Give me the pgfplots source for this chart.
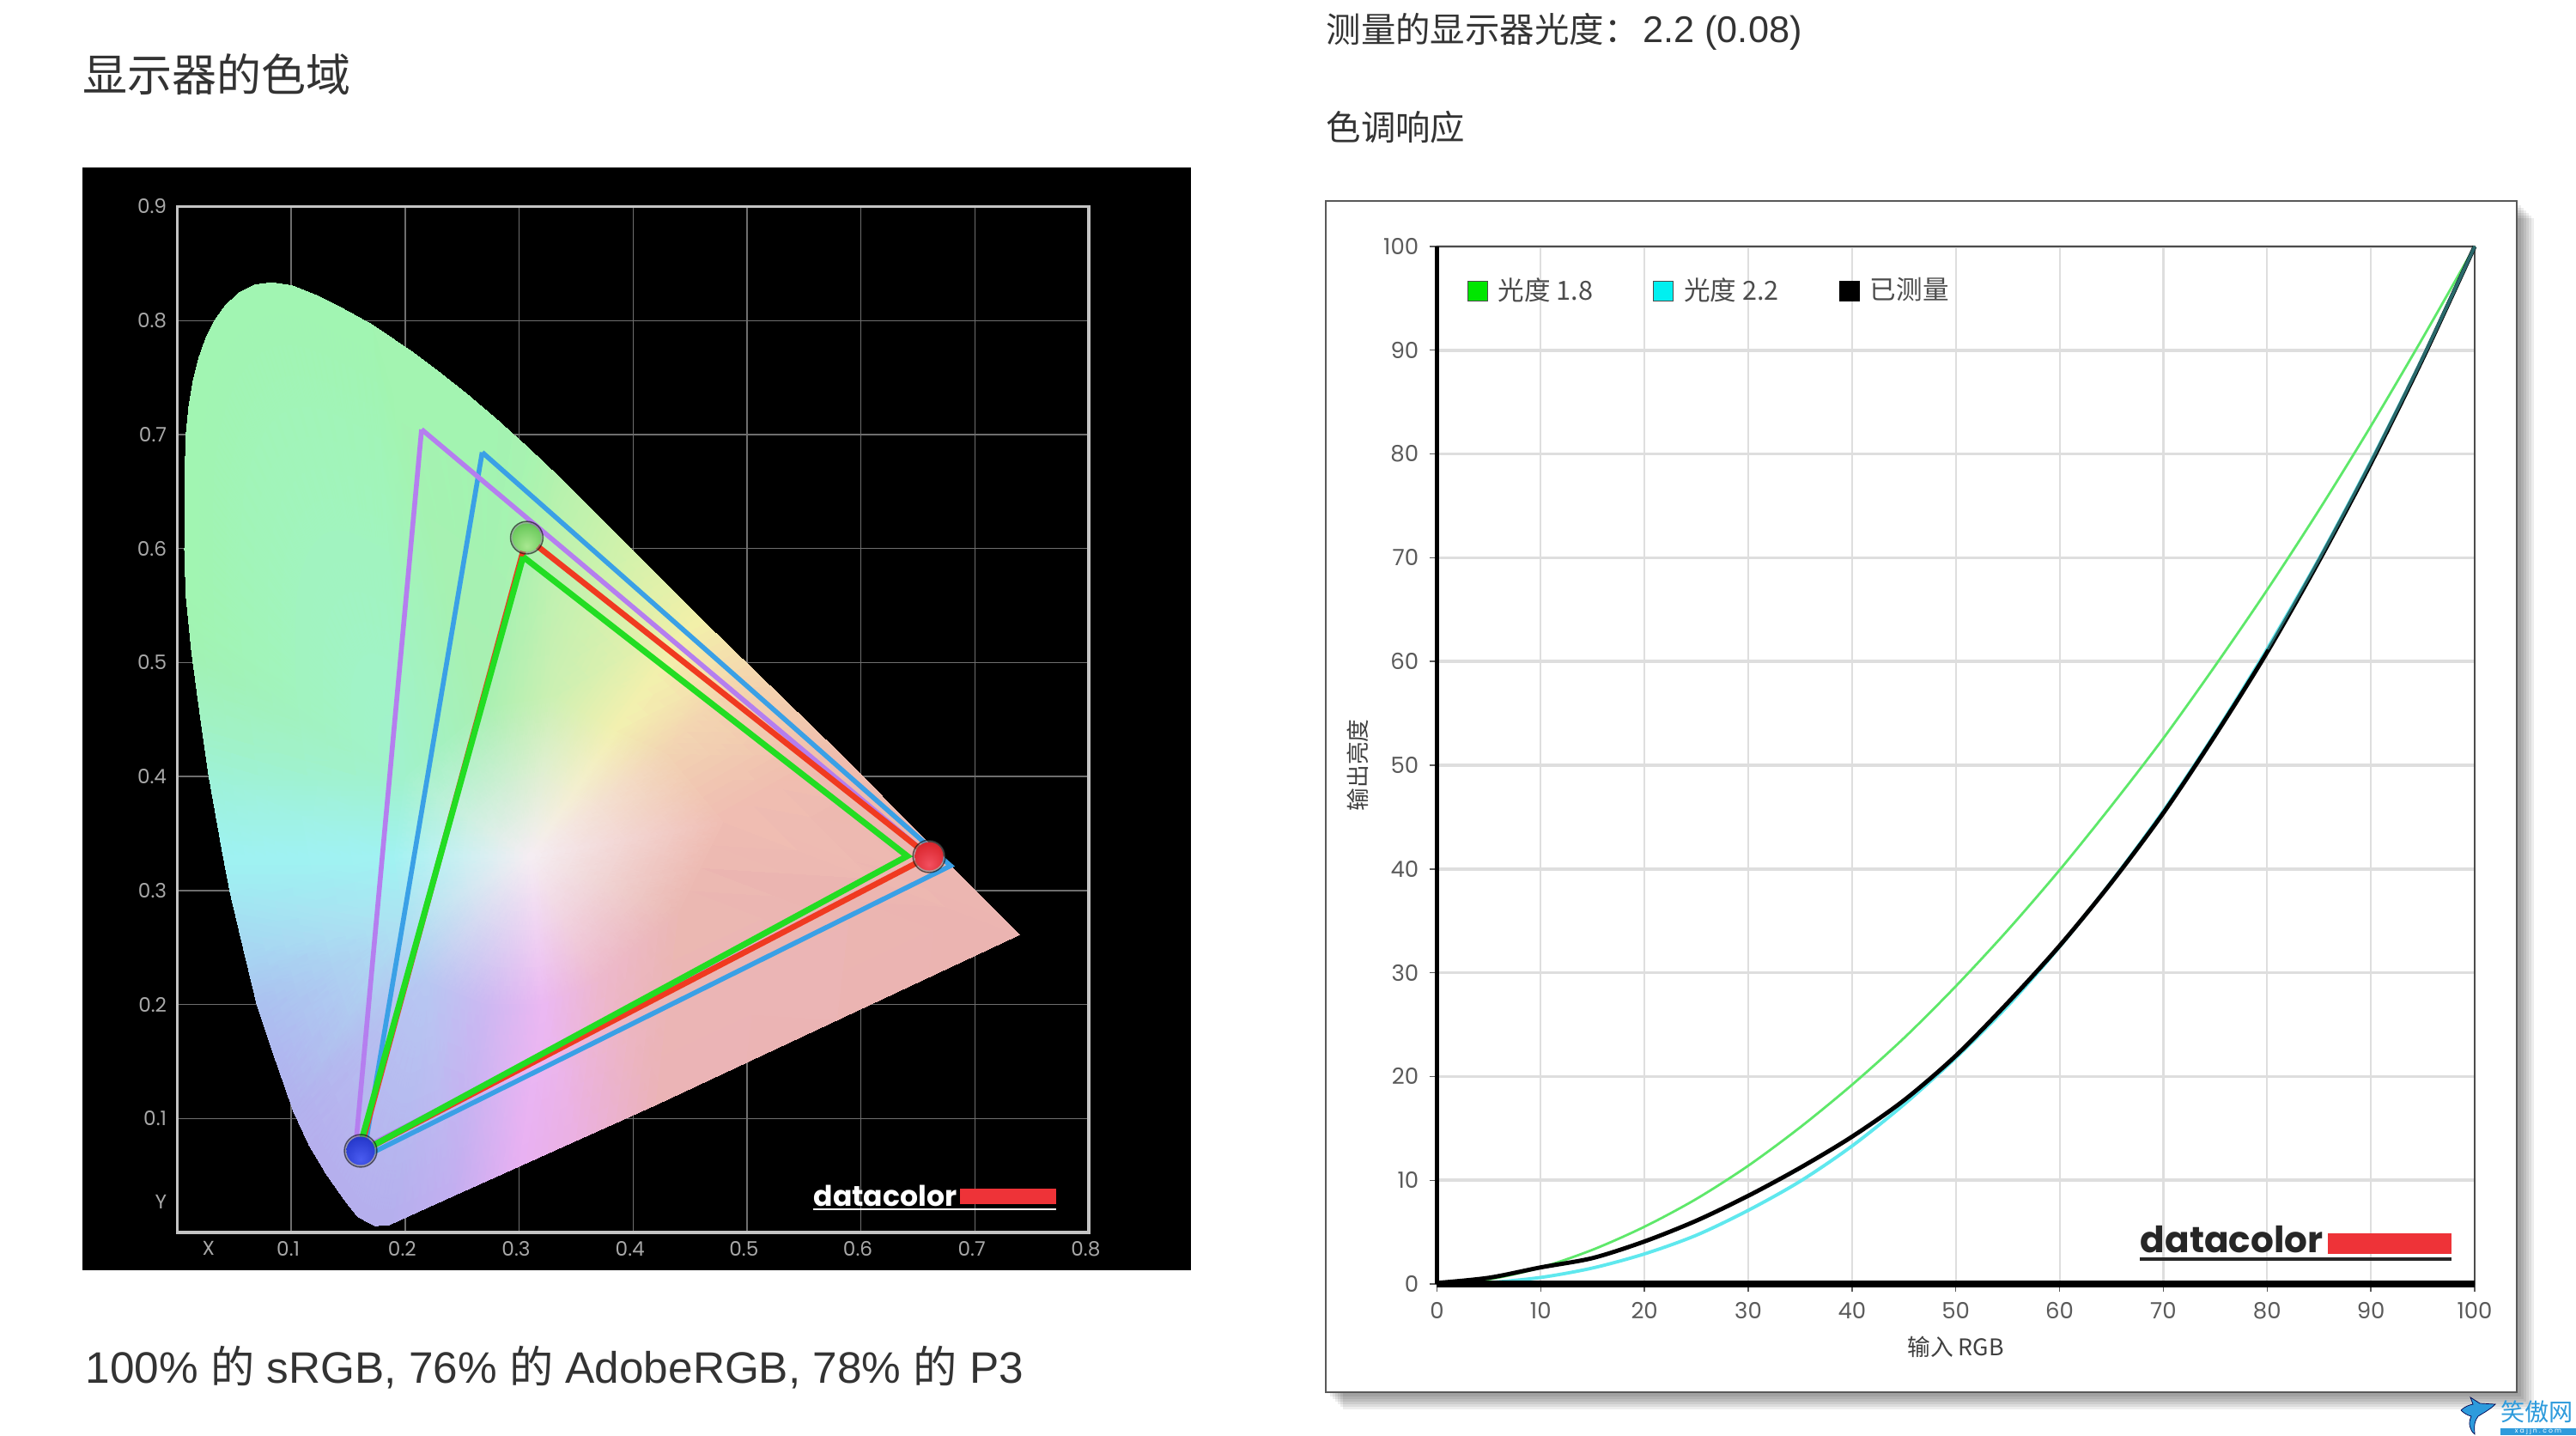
\documentclass[border=0pt]{standalone}
\usepackage{fontspec}
\setmainfont{Poppins}
\newfontfamily\cjk{Noto Sans CJK SC}
\newfontfamily\hel{Liberation Sans}
\usepackage{pgfplots}
\pgfplotsset{compat=1.18}
\usepgfplotslibrary{patchplots}

\definecolor{panelgrid}{HTML}{6E6E6E}
\definecolor{panelframe}{HTML}{C4C4C4}
\definecolor{panellabel}{HTML}{A8A8A8}
\definecolor{adobeline}{HTML}{B57EEF}
\definecolor{p3line}{HTML}{3AA0E6}
\definecolor{measline}{HTML}{F03A20}
\definecolor{srgbline}{HTML}{22DD22}
\definecolor{dcred}{HTML}{EE3338}
\definecolor{gridgray}{HTML}{DEDEDE}
\definecolor{ticktext}{HTML}{5A5A5A}
\definecolor{titletext}{HTML}{333333}
\definecolor{g18}{HTML}{5EE86A}
\definecolor{g22}{HTML}{5FE8EE}
\definecolor{wmblue}{HTML}{2E9BDC}
\definecolor{legcyan}{HTML}{00F0F0}
\definecolor{leggreen}{HTML}{00E600}

\definecolor{br1}{HTML}{F25060}\definecolor{br2}{HTML}{DD2A32}\definecolor{br3}{HTML}{A01C20}
\definecolor{bg1}{HTML}{A8E890}\definecolor{bg2}{HTML}{70CC60}\definecolor{bg3}{HTML}{3A8A3A}
\definecolor{bb1}{HTML}{4A5CF0}\definecolor{bb2}{HTML}{2A3CD0}\definecolor{bb3}{HTML}{14207A}
\pgfdeclareradialshading{ballR}{\pgfpoint{0bp}{-15bp}}{color(0bp)=(br1); color(30bp)=(br2); color(60bp)=(br3); color(100bp)=(br3)}
\pgfdeclareradialshading{ballG}{\pgfpoint{0bp}{-15bp}}{color(0bp)=(bg1); color(30bp)=(bg2); color(60bp)=(bg3); color(100bp)=(bg3)}
\pgfdeclareradialshading{ballB}{\pgfpoint{0bp}{-15bp}}{color(0bp)=(bb1); color(30bp)=(bb2); color(60bp)=(bb3); color(100bp)=(bb3)}
\pgfdeclareplotmark{ballR}{\shade[shading=ballR,draw=none] (0,0) circle (\pgfplotmarksize);}
\pgfdeclareplotmark{ballG}{\shade[shading=ballG,draw=none] (0,0) circle (\pgfplotmarksize);}
\pgfdeclareplotmark{ballB}{\shade[shading=ballB,draw=none] (0,0) circle (\pgfplotmarksize);}

% picture uses 0.01cm per reference pixel, y measured from the bottom
\begin{document}
\begin{tikzpicture}[x=1cm,y=1cm]
\useasboundingbox (0,0) rectangle (30,16.71);
\fill[white] (0,0) rectangle (30,16.71);

% page text
\node[anchor=west,text=titletext,inner sep=0pt,font=\cjk\fontsize{14.8pt}{18pt}\selectfont] at (0.96,15.84) {显示器的色域};
\node[anchor=west,text=titletext,inner sep=0pt,font=\hel\fontsize{14.6pt}{18pt}\selectfont] at (0.99,0.79) {100\% {\cjk 的} sRGB, 76\% {\cjk 的} AdobeRGB, 78\% {\cjk 的} P3};
\node[anchor=west,text=titletext,inner sep=0pt,font=\cjk\fontsize{11.5pt}{14pt}\selectfont] at (15.44,16.34) {测量的显示器光度：\kern0.05cm{\hel\fontsize{12.3pt}{14pt}\selectfont 2.2 (0.08)}};
\node[anchor=west,text=titletext,inner sep=0pt,font=\cjk\fontsize{11.5pt}{14pt}\selectfont] at (15.44,15.23) {色调响应};

% black panel and framed box
\fill[black] (0.96,1.92) rectangle (13.87,14.76);
\foreach \d in {0.20,0.17,0.14,0.11,0.08,0.05}
  \fill[black,opacity=0.07] (15.44+\d,0.50-\d) rectangle (29.31+\d,14.37-\d);
\draw[fill=white,draw=black!65,line width=0.7pt] (15.44,0.50) rectangle (29.31,14.37);

% chromaticity diagram
\begin{axis}[
  at={(2.065cm,2.36cm)}, anchor=origin,
  scale only axis, width=10.615cm, height=11.945cm,
  xmin=0, xmax=0.8, ymin=0, ymax=0.9,
  xtick={0.1,0.2,...,0.7,0.8}, ytick={0.1,0.2,...,0.9},
  xticklabels={0.1,0.2,0.3,0.4,0.5,0.6,0.7,0.8},
  yticklabels={0.1,0.2,0.3,0.4,0.5,0.6,0.7,0.8,0.9},
  extra x ticks={0.03}, extra x tick labels={X},
  extra y ticks={0.027}, extra y tick labels={Y},
  extra tick style={grid=none},
  major tick length=0pt,
  grid=major, grid style={panelgrid,line width=0.4pt},
  axis line style={panelframe,line width=1.1pt},
  tick label style={text=panellabel,font=\fontsize{6.6pt}{8pt}\selectfont},
  xticklabel style={yshift=0.5pt,xshift=-1pt},
  /pgf/number format/assume math mode=true,
  clip=false,
]
% filled locus, vertex colours
\addplot[patch,shader=interp,mesh/color input=explicit,table/row sep=\\,
  patch table={
0 1 2\\ 0 2 3\\ 0 3 4\\ 0 4 5\\ 0 5 6\\ 0 6 7\\ 0 7 8\\ 0 8 9\\ 0 9 10\\ 0 10 11\\ 0 11 12\\ 0 12 13\\ 0 13 1\\
1 58 59\\ 1 59 60\\ 1 60 61\\ 1 61 62\\ 1 62 63\\ 1 63 14\\ 1 14 15\\ 1 15 2\\
2 15 16\\ 2 16 3\\ 3 16 17\\ 3 17 4\\ 4 17 18\\ 4 18 5\\
5 18 19\\ 5 19 6\\ 6 19 20\\ 6 20 21\\ 6 21 7\\
7 21 22\\ 7 22 8\\ 8 22 23\\ 8 23 9\\
9 23 24\\ 9 24 25\\ 9 25 10\\
10 25 26\\ 10 26 27\\ 10 27 28\\ 10 28 29\\ 10 29 30\\ 10 30 31\\ 10 31 11\\
11 31 32\\ 11 32 33\\ 11 33 34\\ 11 34 35\\ 11 35 36\\ 11 36 37\\ 11 37 38\\ 11 38 39\\ 11 39 40\\ 11 40 41\\
11 41 42\\ 11 42 43\\ 11 43 44\\ 11 44 45\\ 11 45 46\\ 11 46 47\\ 11 47 48\\ 11 48 49\\ 11 49 50\\ 11 50 51\\ 11 51 52\\ 11 52 12\\
12 52 53\\ 12 53 54\\ 12 54 13\\
13 54 55\\ 13 55 56\\ 13 56 57\\ 13 57 58\\ 13 58 1\\
}] table[meta=c] {
x y c\\
0.31 0.33 rgb=0.96,0.93,0.95\\
0.22 0.22 rgb=0.72,0.78,0.95\\
0.27 0.20 rgb=0.80,0.72,0.95\\
0.32 0.20 rgb=0.92,0.72,0.95\\
0.37 0.22 rgb=0.93,0.72,0.80\\
0.44 0.28 rgb=0.92,0.72,0.70\\
0.48 0.36 rgb=0.94,0.74,0.70\\
0.43 0.42 rgb=0.95,0.83,0.70\\
0.385 0.44 rgb=0.95,0.94,0.69\\
0.33 0.47 rgb=0.80,0.94,0.70\\
0.27 0.46 rgb=0.66,0.94,0.70\\
0.20 0.40 rgb=0.63,0.95,0.80\\
0.19 0.33 rgb=0.63,0.95,0.95\\
0.20 0.27 rgb=0.68,0.88,0.95\\
0.1861 0.0068 rgb=0.71,0.68,0.93\\
0.24 0.0312 rgb=0.76,0.68,0.94\\
0.30 0.0581 rgb=0.91,0.69,0.95\\
0.35 0.0806 rgb=0.92,0.69,0.88\\
0.42 0.1120 rgb=0.92,0.70,0.72\\
0.739 0.2612 rgb=0.92,0.70,0.69\\
0.6787 0.3217 rgb=0.92,0.71,0.69\\
0.5834 0.4182 rgb=0.94,0.74,0.68\\
0.5004 0.4986 rgb=0.96,0.85,0.68\\
0.4576 0.5400 rgb=0.95,0.94,0.66\\
0.3947 0.6028 rgb=0.82,0.95,0.67\\
0.3319 0.6656 rgb=0.70,0.95,0.68\\
0.3067 0.6894 rgb=0.65,0.96,0.69\\
0.2816 0.7120 rgb=0.63,0.96,0.69\\
0.2565 0.7334 rgb=0.63,0.96,0.69\\
0.2313 0.7535 rgb=0.63,0.96,0.69\\
0.2062 0.7723 rgb=0.63,0.96,0.69\\
0.1710 0.7962 rgb=0.63,0.96,0.69\\
0.1459 0.8100 rgb=0.63,0.96,0.69\\
0.1208 0.8225 rgb=0.63,0.96,0.69\\
0.1006 0.8306 rgb=0.63,0.96,0.69\\
0.0831 0.8331 rgb=0.63,0.96,0.69\\
0.0680 0.8313 rgb=0.63,0.96,0.69\\
0.0554 0.8250 rgb=0.63,0.96,0.69\\
0.0428 0.8137 rgb=0.63,0.96,0.69\\
0.0328 0.7999 rgb=0.63,0.96,0.69\\
0.0253 0.7849 rgb=0.63,0.96,0.69\\
0.0190 0.7672 rgb=0.63,0.96,0.69\\
0.0139 0.7472 rgb=0.63,0.96,0.69\\
0.0102 0.7246 rgb=0.63,0.96,0.69\\
0.0077 0.6994 rgb=0.63,0.96,0.69\\
0.0069 0.6719 rgb=0.63,0.96,0.69\\
0.0069 0.6467 rgb=0.63,0.96,0.69\\
0.0066 0.6216 rgb=0.63,0.96,0.69\\
0.0064 0.5990 rgb=0.63,0.96,0.69\\
0.0077 0.5588 rgb=0.63,0.96,0.69\\
0.0127 0.5086 rgb=0.63,0.95,0.70\\
0.0202 0.4533 rgb=0.63,0.95,0.76\\
0.0277 0.4008 rgb=0.62,0.95,0.84\\
0.0403 0.3303 rgb=0.62,0.95,0.95\\
0.0466 0.2976 rgb=0.63,0.91,0.95\\
0.0579 0.2499 rgb=0.65,0.84,0.95\\
0.0700 0.1997 rgb=0.67,0.75,0.94\\
0.0861 0.1520 rgb=0.69,0.71,0.94\\
0.1019 0.1067 rgb=0.70,0.69,0.93\\
0.1158 0.0766 rgb=0.71,0.68,0.93\\
0.1308 0.0514 rgb=0.71,0.68,0.93\\
0.1484 0.0264 rgb=0.71,0.68,0.93\\
0.1585 0.0138 rgb=0.71,0.68,0.93\\
0.1736 0.0058 rgb=0.71,0.68,0.93\\
};
% gamut triangles
\addplot[p3line,line width=1.6pt,line join=miter] coordinates {(0.2676,0.6844) (0.6787,0.3217) (0.1633,0.066) (0.2676,0.6844)};
\addplot[adobeline,line width=1.6pt,line join=miter] coordinates {(0.2144,0.7045) (0.66,0.33) (0.156,0.07) (0.2144,0.7045)};
\addplot[measline,line width=1.9pt,line join=miter] coordinates {(0.3067,0.6095) (0.66,0.33) (0.16,0.07) (0.3067,0.6095)};
\addplot[srgbline,line width=2pt,line join=miter] coordinates {(0.3035,0.5928) (0.6407,0.3302) (0.1585,0.0691) (0.3035,0.5928)};
% primaries
\addplot[only marks,mark=*,mark size=5.4pt,mark options={draw=none,fill=gray,opacity=0.55}] coordinates {(0.1609,0.0716) (0.3067,0.6095) (0.6599,0.33)};
\addplot[only marks,draw=none,mark=ballB,mark size=4.7pt,mark options={draw=none}] coordinates {(0.1609,0.0716)};
\addplot[only marks,draw=none,mark=ballG,mark size=4.7pt,mark options={draw=none}] coordinates {(0.3067,0.6095)};
\addplot[only marks,draw=none,mark=ballR,mark size=4.7pt,mark options={draw=none}] coordinates {(0.6599,0.33)};
\end{axis}

% left logo
\node[anchor=south west,inner sep=0pt,text=white,font=\bfseries\fontsize{9.4pt}{10pt}\selectfont] at (9.47,2.66) {datacolor};
\fill[dcred] (11.18,2.69) rectangle (12.30,2.87);
\draw[white,line width=0.7pt] (9.47,2.63) -- (12.30,2.63);

% tone response
\begin{axis}[
  at={(16.734cm,1.76cm)}, anchor=origin,
  scale only axis, width=12.086cm, height=12.08cm,
  xmin=0, xmax=100, ymin=0, ymax=100,
  xtick={0,10,...,100}, ytick={0,10,...,100},
  tick pos=left,
  tick align=outside, major tick length=2.5pt,
  tick style={ticktext,line width=0.4pt},
  xmajorgrids, ymajorgrids,
  x grid style={gridgray,line width=0.6pt},
  y grid style={gridgray,line width=1.0pt},
  axis line style={black!70,line width=0.6pt},
  tick label style={text=ticktext,font=\fontsize{7.4pt}{9pt}\selectfont},
  /pgf/number format/assume math mode=true,
  xlabel={\cjk 输入 RGB}, ylabel={\cjk 输出亮度},
  label style={text=black!75,font=\fontsize{7.6pt}{9pt}\selectfont},
  xlabel style={yshift=1pt}, ylabel style={yshift=-2pt},
  legend columns=-1,
  legend style={at={(0.0286,0.957)},anchor=west,draw=none,fill=none,
    inner sep=0pt,font=\fontsize{8.7pt}{10pt}\selectfont,text=black!70,
    /tikz/every even column/.append style={column sep=0.63cm},
    /tikz/every odd column/.append style={column sep=0.05cm}},
  clip=false,
]
\addplot[g18,line width=0.8pt,smooth,
  legend image code/.code={\draw[fill=leggreen,draw=black!70,line width=0.3pt] (0cm,-0.115cm) rectangle (0.23cm,0.115cm);}]
  coordinates {(0,0) (5,0.45) (10,1.58) (15,3.3) (20,5.52) (25,8.2) (30,11.4) (35,15.1) (40,19.2) (45,23.7) (50,28.7) (55,34.1) (60,39.9) (65,46.1) (70,52.6) (75,59.6) (80,66.9) (85,74.6) (90,82.7) (95,91.2) (100,100)};
\addlegendentry{\cjk 光度 1.8}
\addplot[g22,line width=1.1pt,smooth,
  legend image code/.code={\draw[fill=legcyan,draw=black!70,line width=0.3pt] (0cm,-0.115cm) rectangle (0.23cm,0.115cm);}]
  coordinates {(0,0) (5,0.14) (10,0.63) (15,1.54) (20,2.9) (25,4.7) (30,7.1) (35,9.9) (40,13.3) (45,17.3) (50,21.8) (55,26.8) (60,32.5) (65,38.8) (70,45.6) (75,53.1) (80,61.2) (85,69.9) (90,79.3) (95,89.3) (100,100)};
\addlegendentry{\cjk 光度 2.2}
\addplot[black,line width=1.4pt,smooth,
  legend image code/.code={\draw[fill=black,draw=black,line width=0.3pt] (0cm,-0.115cm) rectangle (0.23cm,0.115cm);}]
  coordinates {(0,0.1) (5,0.6) (10,1.6) (15,2.5) (20,4.1) (25,6.1) (30,8.5) (35,11.2) (40,14.2) (45,17.7) (50,22) (55,27.1) (60,32.6) (65,38.7) (70,45.4) (75,52.9) (80,60.9) (85,69.7) (90,79.1) (95,89.2) (100,100)};
\addlegendentry{\cjk 已测量}
% teal look of the top end, where gamma 2.2 lies over the measured curve
\addplot[forget plot,g22,opacity=0.45,line width=1.1pt,smooth]
  coordinates {(80,61.2) (85,69.9) (90,79.3) (95,89.3) (100,100)};
\draw[black,line width=1.4pt] (rel axis cs:0,0) -- (rel axis cs:0,1);
\draw[black,line width=2pt] (rel axis cs:0,0) -- (rel axis cs:1,0);
\end{axis}

% right logo
\node[anchor=south west,inner sep=0pt,text=black!85,font=\bfseries\fontsize{12pt}{13pt}\selectfont] at (24.92,2.11) {datacolor};
\fill[dcred] (27.11,2.11) rectangle (28.55,2.35);
\draw[black!85,line width=0.9pt] (24.92,2.05) -- (28.55,2.05);

% watermark
\node[anchor=west,inner sep=0pt,text=wmblue,font=\cjk\fontsize{8pt}{9pt}\selectfont] at (29.12,0.27) {笑傲网};
\fill[wmblue] (29.12,0) rectangle (30,0.08);
\node[inner sep=0pt,text=white,font=\fontsize{2.2pt}{3pt}\selectfont] at (29.56,0.04) {x a j j n . c o m};
\fill[wmblue,draw=black!70!blue,line width=0.2pt] (28.66,0.29) .. controls (28.70,0.33) and (28.75,0.35) .. (28.80,0.36) -- (28.77,0.44) -- (28.88,0.37) -- (29.06,0.36) .. controls (29.00,0.30) and (28.94,0.27) .. (28.86,0.22) .. controls (28.80,0.14) and (28.82,0.07) .. (28.82,0.01) .. controls (28.76,0.06) and (28.74,0.14) .. (28.78,0.22) .. controls (28.74,0.23) and (28.70,0.25) .. (28.66,0.29) -- cycle;
\end{tikzpicture}
\end{document}
